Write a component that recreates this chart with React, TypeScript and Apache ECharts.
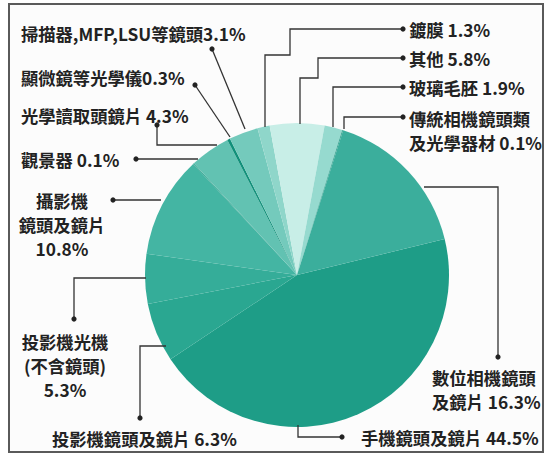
import React, { useEffect, useRef } from "react";
import * as echarts from "echarts";

// Slices, clockwise from the boundary right of centre
const CATEGORIES = [
  "手機鏡頭及鏡片",
  "投影機鏡頭及鏡片",
  "投影機光機(不含鏡頭)",
  "攝影機鏡頭及鏡片",
  "觀景器",
  "光學讀取頭鏡片",
  "顯微鏡等光學儀",
  "掃描器,MFP,LSU等鏡頭",
  "鍍膜",
  "其他",
  "玻璃毛胚",
  "傳統相機鏡頭類及光學器材",
  "數位相機鏡頭及鏡片",
];
const VALUES = [44.5, 6.3, 5.3, 10.8, 0.1, 4.3, 0.3, 3.1, 1.3, 5.8, 1.9, 0.1, 16.3];
const LABEL_NAMES = [
  "手機鏡頭及鏡片 ",
  "投影機鏡頭及鏡片 ",
  "投影機光機\n(不含鏡頭)\n",
  "攝影機\n鏡頭及鏡片\n",
  "觀景器 ",
  "光學讀取頭鏡片 ",
  "顯微鏡等光學儀",
  "掃描器,MFP,LSU等鏡頭",
  "鍍膜 ",
  "其他 ",
  "玻璃毛胚 ",
  "傳統相機鏡頭類\n及光學器材 ",
  "數位相機鏡頭\n及鏡片 ",
];

// styling / layout (not data)
const COLORS = [
  "#1e9d87",
  "#2aa791",
  "#35ad99",
  "#44b5a3",
  "#2fa28e",
  "#62c2b2",
  "#12907a",
  "#74cabc",
  "#8fd6ca",
  "#c8eee7",
  "#96dacf",
  "#2f9f8c",
  "#3bae9c",
];
const LABEL_LAYOUT: { x: number; y: number; align: string; dot: number[]; path: number[][] }[] = [
  { x: 361, y: 437, align: "left", dot: [342, 437], path: [[342, 437], [298, 437], [298, 425]] },
  { x: 52, y: 438, align: "left", dot: [140, 418], path: [[140, 418], [140, 346], [166, 346]] },
  { x: 65, y: 365, align: "center", dot: [74, 319], path: [[74, 319], [74, 278], [146, 278]] },
  { x: 62, y: 224, align: "center", dot: [113, 200], path: [[113, 200], [161, 200]] },
  { x: 21, y: 159, align: "left", dot: [136, 159], path: [[136, 159], [198, 159]] },
  { x: 21, y: 115, align: "left", dot: [157, 125], path: [[157, 125], [157, 145], [217, 145]] },
  { x: 21, y: 77, align: "left", dot: [195, 85], path: [[195, 85], [230, 137]] },
  { x: 21, y: 33, align: "left", dot: [212, 49], path: [[212, 49], [245, 129]] },
  { x: 409, y: 29, align: "left", dot: [403, 29], path: [[403, 29], [290, 29], [290, 55], [265, 55], [265, 127]] },
  { x: 409, y: 58, align: "left", dot: [403, 58], path: [[403, 58], [318, 58], [318, 78], [300, 78], [300, 124]] },
  { x: 409, y: 87, align: "left", dot: [403, 87], path: [[403, 87], [333, 87], [333, 127]] },
  { x: 409, y: 130, align: "left", dot: [403, 117], path: [[403, 117], [344, 117], [344, 129]] },
  { x: 432, y: 389, align: "left", dot: [498, 357], path: [[498, 357], [498, 187], [424, 187]] },
];

const FONT_FAMILY = '"Noto Sans CJK TC", "Noto Sans CJK SC", "Noto Sans", sans-serif';

export default function App() {
  const ref = useRef<HTMLDivElement>(null);

  useEffect(() => {
    if (!ref.current) return;
    const chart = echarts.init(ref.current, null, { renderer: "svg" });

    const graphics: any[] = [
      {
        type: "rect",
        shape: { x: 9, y: 4, width: 534, height: 448 },
        style: { fill: "#fcfcfc", stroke: "#5a5a5a", lineWidth: 2 },
        z: -10,
      },
    ];
    LABEL_LAYOUT.forEach((l, i) => {
      graphics.push({
        type: "polyline",
        shape: { points: l.path },
        style: { stroke: "#333", lineWidth: 1.3, fill: null },
        z: 5,
      });
      graphics.push({
        type: "circle",
        shape: { cx: l.dot[0], cy: l.dot[1], r: 2.6 },
        style: { fill: "#222" },
        z: 6,
      });
      const text = LABEL_NAMES[i] + VALUES[i].toFixed(1) + "%";
      graphics.push({
        type: "text",
        x: l.x,
        y: l.y,
        style: {
          text,
          fill: "#222",
          fontSize: 17.3,
          fontWeight: "bold",
          fontFamily: FONT_FAMILY,
          lineHeight: 24,
          align: l.align,
          textAlign: l.align,
          verticalAlign: "middle",
          textVerticalAlign: "middle",
        },
        z: 6,
      });
    });

    chart.setOption({
      animation: false,
      backgroundColor: "#ffffff",
      graphic: { elements: graphics },
      series: [
        {
          type: "pie",
          center: [297, 275],
          radius: 152,
          startAngle: 13.7,
          clockwise: true,
          label: { show: false },
          labelLine: { show: false },
          emphasis: { disabled: true },
          itemStyle: { borderWidth: 0 },
          z: 3,
          data: CATEGORIES.map((name, i) => ({
            name,
            value: VALUES[i],
            itemStyle: { color: COLORS[i] },
          })),
        },
      ],
    });

    return () => chart.dispose();
  }, []);

  return (
    <div
      ref={ref}
      style={{ position: "fixed", left: 0, top: 0, width: 547, height: 456 }}
    />
  );
}
